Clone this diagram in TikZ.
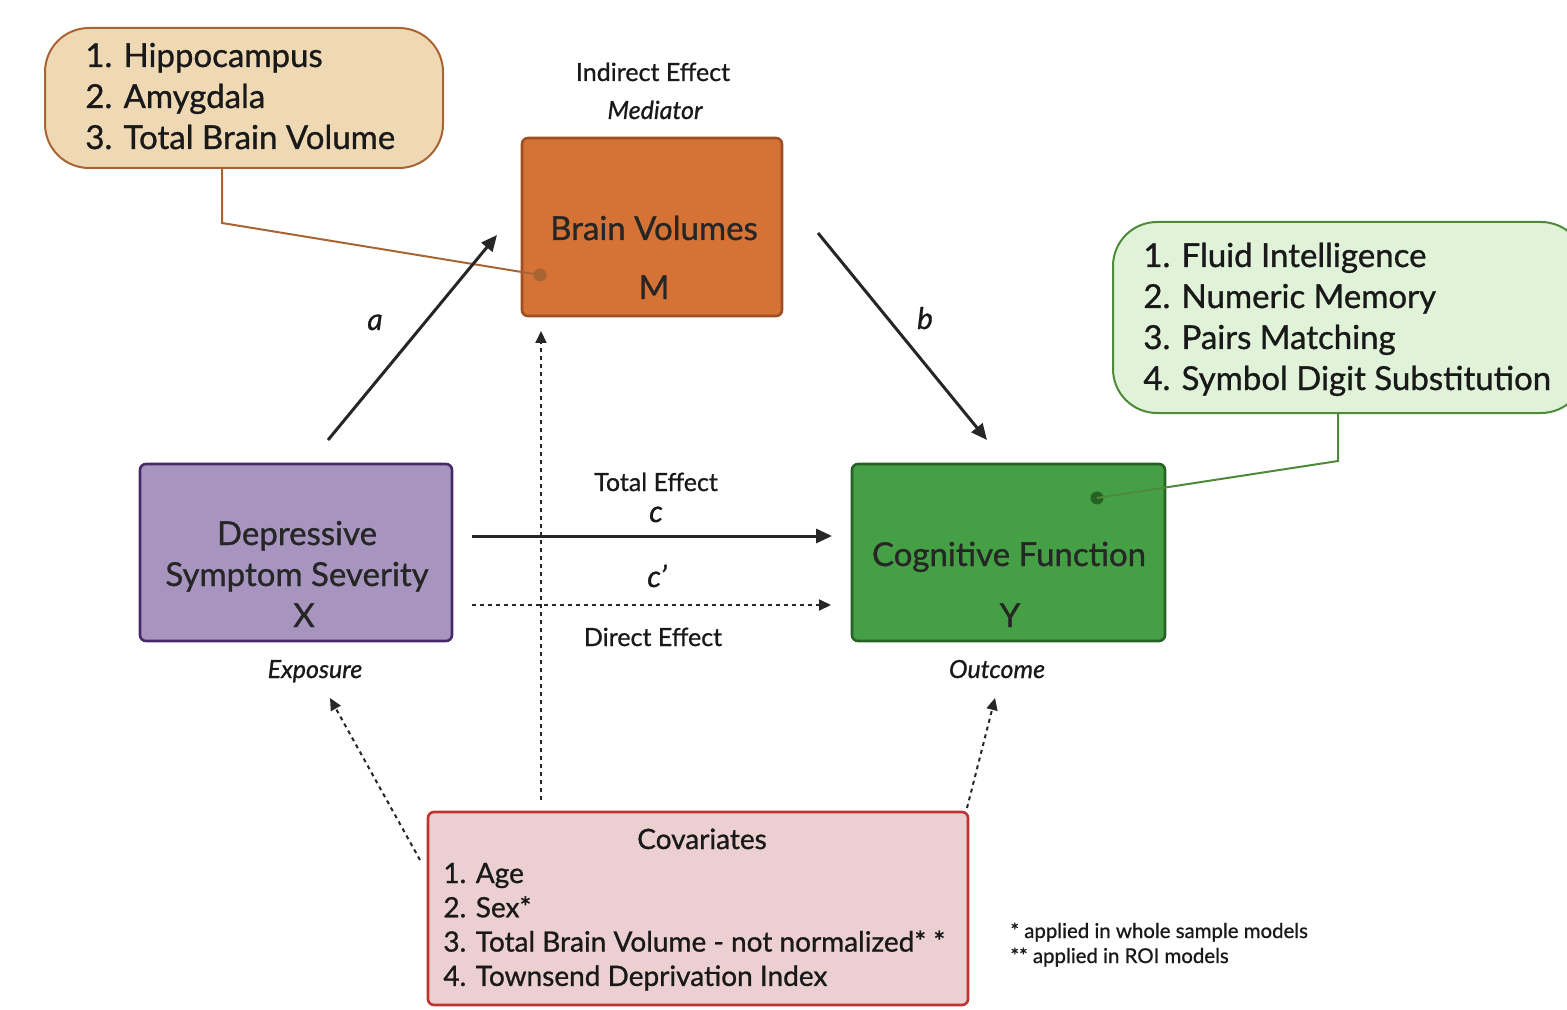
\documentclass[tikz,border=0pt]{standalone}
\usepackage{fontspec}
\setmainfont{Lato}[FakeBold=0.9]
\usetikzlibrary{arrows.meta}
\definecolor{tanfill}{RGB}{239,217,181}
\definecolor{tanline}{RGB}{168,100,50}
\definecolor{orangefill}{RGB}{213,115,55}
\definecolor{orangeline}{RGB}{158,78,36}
\definecolor{purplefill}{RGB}{167,149,192}
\definecolor{purpleline}{RGB}{72,40,104}
\definecolor{greenfill}{RGB}{69,160,69}
\definecolor{greenline}{RGB}{38,98,38}
\definecolor{mintfill}{RGB}{224,242,216}
\definecolor{mintline}{RGB}{78,138,58}
\definecolor{pinkfill}{RGB}{236,208,209}
\definecolor{pinkline}{RGB}{190,52,48}
\definecolor{arrowgray}{RGB}{38,38,38}
\begin{document}
\begin{tikzpicture}[x=0.5pt,y=-0.5pt,
every node/.style={inner sep=0pt},
box/.style={%
draw,
line width=1.3pt,
rounded corners=3pt
},
bubble/.style={%
draw,
line width=1pt,
rounded corners=22pt
},
big/.style={%
font=\fontsize{16.5}{20}\selectfont,
text=black!85,
anchor=base
},
list/.style={%
font=\fontsize{16.5}{20}\selectfont,
text=black!90,
anchor=base west
},
cov/.style={%
font=\fontsize{14}{16}\selectfont,
text=black!90,
anchor=base west
},
tag/.style={%
font=\fontsize{12.5}{15}\selectfont,
text=black!90,
anchor=base
},
dot/.style={%
circle,
minimum size=6.5pt
},
path/.style={%
draw=arrowgray,
line width=1.5pt,
-{Triangle[length=8pt,width=7pt]}
},
dotpath/.style={%
draw=arrowgray,
line width=1pt,
dash pattern=on 2pt off 2pt,
-{Triangle[length=6pt,width=5.5pt]}
}]
\useasboundingbox (0,0) rectangle (1567,1010);
\clip (0,0) rectangle (1567,1010);
% boxes
\node[bubble,draw=tanline,fill=tanfill,minimum width=199pt,minimum height=70pt](roi)at(244,98){};
\node[bubble,draw=mintline,fill=mintfill,minimum width=236pt,minimum height=95.5pt](tests)at(1349,317.5){};
\node[box,draw=orangeline,fill=orangefill,minimum width=130pt,minimum height=89pt](M)at(652,227){};
\node[box,draw=purpleline,fill=purplefill,minimum width=156pt,minimum height=88.5pt](X)at(296,552.5){};
\node[box,draw=greenline,fill=greenfill,minimum width=156.5pt,minimum height=88.5pt](Y)at(1008.5,552.5){};
\node[box,draw=pinkline,fill=pinkfill,minimum width=270pt,minimum height=96.5pt](C)at(698,908.5){};
% texts in boxes
\foreach \t[count=\i from 0] in {1. Hippocampus,2. Amygdala,3. Total Brain Volume}{%
\node[list](roi\i)at(85,67+41*\i){\t};
}
\foreach \t[count=\i from 0] in {1. Fluid Intelligence,2. Numeric Memory,3. Pairs Matching,4. Symbol Digit Substitution}{%
\node[list](tests\i)at(1143,267+41*\i){\t};
}
\node[big](Mname)at(654,240){Brain Volumes};
\node[big](Mvar)at(654,299){M};
\node[big](Xname1)at(297,545){Depressive};
\node[big](Xname2)at(297,586){Symptom Severity};
\node[big](Xvar)at(304,627){X};
\node[big](Yname)at(1009,566){Cognitive Function};
\node[big](Yvar)at(1010,627){Y};
\node[cov,anchor=base](Ctitle)at(702,849){Covariates};
\foreach \t[count=\i from 0] in {1. Age,2. Sex*,3. Total Brain Volume - not normalized* *,4. Townsend Deprivation Index}{%
\node[cov](C\i)at(443,883+34.3*\i){\t};
}
% labels
\node[tag](ind)at(653,81){Indirect Effect};
\node[tag,font=\fontsize{12.5}{15}\selectfont\itshape](med)at(655,119){Mediator};
\node[tag,font=\fontsize{12.5}{15}\selectfont\itshape](expo)at(315,678){Exposure};
\node[tag,font=\fontsize{12.5}{15}\selectfont\itshape](outc)at(997,678){Outcome};
\node[tag](tot)at(656,491){Total Effect};
\node[tag,font=\fontsize{15}{18}\selectfont\itshape](c)at(656,522){c};
\node[tag,font=\fontsize{15}{18}\selectfont\itshape](cp)at(657,587){c'};
\node[tag](dir)at(653,646){Direct Effect};
\node[tag,font=\fontsize{15}{18}\selectfont\itshape](la)at(375,330){a};
\node[tag,font=\fontsize{15}{18}\selectfont\itshape](lb)at(925,329){b};
\node[font=\fontsize{10.2}{12}\selectfont,anchor=base west,text=black!90](fn1)at(1010,938){* applied in whole sample models};
\node[font=\fontsize{10.2}{12}\selectfont,anchor=base west,text=black!90](fn2)at(1010,963){** applied in ROI models};
% callout connectors
\node[dot,fill=tanline](Mdot)at(540,275){};
\node[dot,fill=greenline](Ydot)at(1097,498){};
\draw[tanline,line width=1pt]([xshift=-11pt]roi.south)--++(0,54)--(Mdot.center);
\draw[mintline,line width=1pt]([xshift=-5.5pt]tests.south)--++(0,47)--(Ydot.center);
% paths
\coordinate(a0)at(328,440);
\coordinate(a1)at(497,235);
\coordinate(b0)at(818,233);
\coordinate(b1)at(987,440);
\coordinate(c0)at(472,536);
\coordinate(c1)at(832,536);
\coordinate(d0)at(472,605);
\coordinate(d1)at(831,605);
\draw[path](a0)--(a1);
\draw[path](b0)--(b1);
\draw[path](c0)--(c1);
\draw[dotpath](d0)--(d1);
\coordinate(m0)at(541,800);
\coordinate(m1)at(541,331);
\coordinate(x0)at(420,860);
\coordinate(x1)at(330,698);
\coordinate(y0)at(967,808);
\coordinate(y1)at(995,698);
\draw[dotpath](m0)--(m1);
\draw[dotpath](x0)--(x1);
\draw[dotpath](y0)--(y1);
\end{tikzpicture}
\end{document}
